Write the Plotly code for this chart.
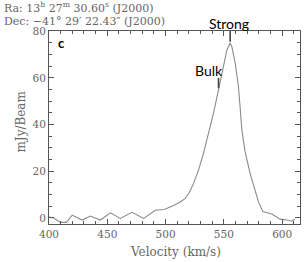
import plotly.graph_objects as go

velocity = [400, 404, 409.8, 415, 419.9, 428.4, 435.5, 444, 452.7, 461.2, 471.2, 481.2,
            491.2, 498.9, 506.8, 512.6, 516.9, 520.5, 524, 528.3, 532.5, 537.7, 541.1,
            545.4, 548.3, 552.6, 555.4, 556.8, 559.7, 562.5, 564, 565.4, 568.2, 572.5,
            579.6, 583.4, 591.1, 598.2, 603.9, 608.2, 611]
flux = [0.4, 0, -1.9, -1.9, 1.2, -0.9, 0.8, -0.9, 2.2, -0.2, 2.4, -0.2,
        3.3, 3.6, 5.3, 6.8, 8.4, 11.0, 14.8, 20.6, 27.7, 37.7, 44.9,
        54.9, 62, 72, 75, 73.5, 66.4, 56.3, 47, 37.7, 28.4, 19.1,
        7, 2.7, 1.7, -0.5, -0.9, -1.3, -0.6]

x_ticks = [400, 450, 500, 550, 600]
y_ticks = [0, 20, 40, 60, 80]
x_range = [400, 615.3]
y_range = [-2.6, 80.1]

bulk_v, bulk_y = 545.4, [55.6, 60.0]
strong_v, strong_y = 555.4, [75.5, 80.1]

ra_text = "Ra: 13<sup>h</sup> 27<sup>m</sup> 30.60<sup>s</sup> (J2000)"
dec_text = "Dec: \u221241\u00b0 29\u2032 22.43\u2033 (J2000)"

W, H = 308, 262
ml, mr, mt, mb = 48.5, 8, 31, 38
pw, ph = W - ml - mr, H - mt - mb

def px(x):
    return (x - ml) / pw

def py(y):
    return (H - mb - y) / ph

serif = "DejaVu Serif"
gray = "#666666"

fig = go.Figure()
fig.add_trace(go.Scatter(x=velocity, y=flux, mode="lines",
                         line=dict(color="#8a8a8a", width=1.1),
                         hoverinfo="skip", showlegend=False))

for v, ys in [(bulk_v, bulk_y), (strong_v, strong_y)]:
    fig.add_shape(type="line", xref="x", yref="y", x0=v, x1=v, y0=ys[0], y1=ys[1],
                  line=dict(color="#444444", width=1.6))

axis_common = dict(showline=True, linecolor="#555555", linewidth=1, mirror="allticks",
                   ticks="inside", ticklen=5, tickcolor="#555555", showgrid=False,
                   zeroline=False, tickfont=dict(family=serif, size=10.5, color=gray))

fig.update_xaxes(range=x_range, tickvals=x_ticks, **axis_common,
                 minor=dict(dtick=10, tick0=400, ticks="inside", ticklen=3, tickcolor="#555555"))
fig.update_yaxes(range=y_range, tickvals=y_ticks, **axis_common,
                 minor=dict(dtick=5, tick0=0, ticks="inside", ticklen=3, tickcolor="#555555"))

annotations = [
    dict(text=ra_text, x=px(1), y=py(7), xanchor="left", yanchor="middle",
         font=dict(family=serif, size=11, color=gray)),
    dict(text=dec_text, x=px(1), y=py(21), xanchor="left", yanchor="middle",
         font=dict(family=serif, size=11, color=gray)),
    dict(text="mJy/Beam", x=px(20), y=py(122), textangle=-90, xanchor="center", yanchor="middle",
         font=dict(family=serif, size=12, color=gray)),
    dict(text="Velocity (km/s)", x=px(175), y=py(251.5), xanchor="center", yanchor="middle",
         font=dict(family=serif, size=12, color=gray)),
    dict(text="<b>c</b>", x=px(61.5), y=py(43), xanchor="center", yanchor="middle",
         font=dict(family="Lato", size=13, color="black")),
    dict(text="Bulk", x=px(209), y=py(70), xanchor="center", yanchor="middle",
         font=dict(family="Lato", size=14, color="black")),
    dict(text="Strong", x=px(229), y=py(23.5), xanchor="center", yanchor="middle",
         font=dict(family="Lato", size=14, color="black")),
]
for a in annotations:
    a.update(xref="paper", yref="paper", showarrow=False)

fig.update_layout(width=W, height=H, margin=dict(l=ml, r=mr, t=mt, b=mb, pad=0),
                  paper_bgcolor="white", plot_bgcolor="white", annotations=annotations)

fig.write_html("out.html", config={"displayModeBar": False, "staticPlot": True},
               post_script="document.body.style.margin='0';")
